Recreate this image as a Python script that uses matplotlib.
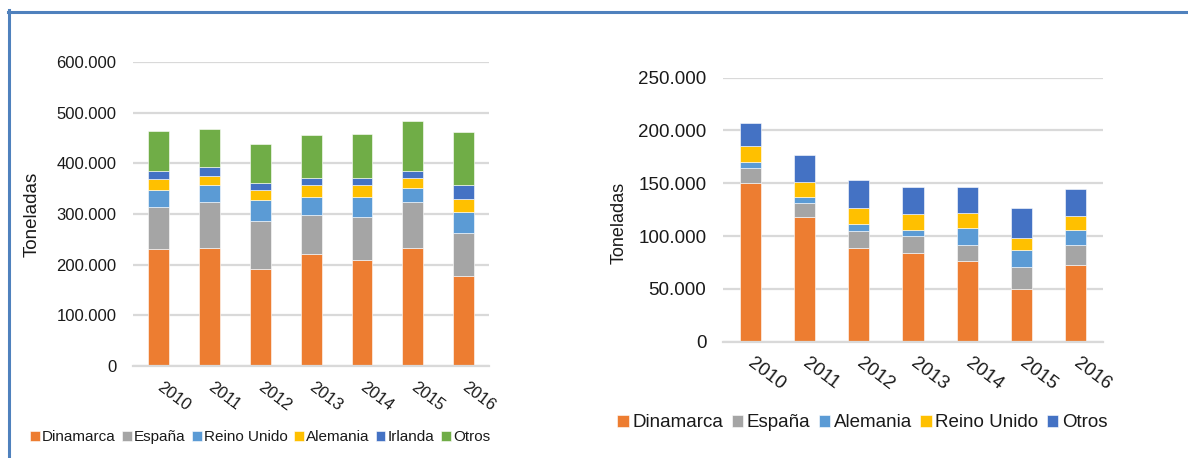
import matplotlib
matplotlib.use("Agg")
import matplotlib.pyplot as plt
from matplotlib.lines import Line2D
from matplotlib.ticker import FuncFormatter, MultipleLocator
import numpy as np

years = ["2010", "2011", "2012", "2013", "2014", "2015", "2016"]

# left panel, thousands of tonnes
left_dinamarca = [230, 233, 192, 220, 210, 233, 178]
left_espana = [83, 91, 94, 79, 85, 91, 84]
left_reino_unido = [35, 33, 41, 35, 39, 27, 41]
left_alemania = [21, 19, 20, 24, 24, 21, 27]
left_irlanda = [17, 17, 14, 14, 14, 14, 28]
left_otros = [79, 76, 77, 84, 87, 97, 104]

# right panel, thousands of tonnes
right_dinamarca = [150, 118, 89, 84, 76, 50, 73]
right_espana = [14, 13, 16, 16, 16, 21, 19]
right_alemania = [6, 6, 6, 6, 16, 16, 14]
right_reino_unido = [15, 14, 16, 15, 14, 11, 13]
right_otros = [22, 26, 26, 25, 24, 29, 26]

ORANGE = "#ED7D31"
GRAY = "#A5A5A5"
LBLUE = "#5B9BD5"
YELLOW = "#FFC000"
DBLUE = "#4472C4"
GREEN = "#70AD47"
GRID = "#D9D9D9"
TXT = "#1a1a1a"

plt.rcParams["font.family"] = ["Liberation Sans", "DejaVu Sans"]

left_series = [
    ("Dinamarca", left_dinamarca, ORANGE),
    ("España", left_espana, GRAY),
    ("Reino Unido", left_reino_unido, LBLUE),
    ("Alemania", left_alemania, YELLOW),
    ("Irlanda", left_irlanda, DBLUE),
    ("Otros", left_otros, GREEN),
]
right_series = [
    ("Dinamarca", right_dinamarca, ORANGE),
    ("España", right_espana, GRAY),
    ("Alemania", right_alemania, LBLUE),
    ("Reino Unido", right_reino_unido, YELLOW),
    ("Otros", right_otros, DBLUE),
]


def thousands(v, pos):
    return f"{int(round(v)):,}".replace(",", ".")


def stacked(ax, series, width):
    x = np.arange(len(years))
    bottom = np.zeros(len(years))
    for name, vals, color in series:
        vals = np.array(vals) * 1000.0
        ax.bar(x, vals, width, bottom=bottom, color=color, label=name,
               edgecolor="white", linewidth=0.4)
        bottom += vals
    ax.set_xlim(-0.5, len(years) - 0.5)
    ax.set_xticks(x)
    ax.yaxis.set_major_formatter(FuncFormatter(thousands))
    ax.grid(axis="y", color=GRID, linewidth=1.6)
    ax.set_axisbelow(True)
    for s in ["top", "right", "left"]:
        ax.spines[s].set_visible(False)
    ax.spines["bottom"].set_color(GRID)
    ax.spines["bottom"].set_linewidth(1.6)
    ax.tick_params(length=0, colors=TXT)


fig = plt.figure(figsize=(11.88, 4.58), dpi=100)

# left panel
ax1 = fig.add_axes([0.112, 0.2015, 0.2997, 0.6625])
stacked(ax1, left_series, 0.41)
ax1.set_ylim(0, 600000)
ax1.yaxis.set_major_locator(MultipleLocator(100000))
ax1.tick_params(axis="y", labelsize=12, pad=12)
ax1.set_xticklabels(years, fontsize=12, rotation=-37, ha="left", va="center",
                    rotation_mode="anchor")
ax1.tick_params(axis="x", pad=14)
ax1.set_ylabel("Toneladas", fontsize=13.5, color=TXT)
ax1.yaxis.set_label_coords(-0.261, 0.5)
fig.legend(*ax1.get_legend_handles_labels(), loc="center", ncol=6,
           bbox_to_anchor=(0.219, 0.045), frameon=False, fontsize=11,
           handlelength=0.6, handleheight=0.6, handletextpad=0.15,
           columnspacing=0.45, labelcolor=TXT)

# right panel
ax2 = fig.add_axes([0.6086, 0.254, 0.3199, 0.5764])
stacked(ax2, right_series, 0.39)
ax2.set_ylim(0, 250000)
ax2.yaxis.set_major_locator(MultipleLocator(50000))
ax2.tick_params(axis="y", labelsize=13.5, pad=12)
ax2.set_xticklabels(years, fontsize=13.5, rotation=-37, ha="left", va="center",
                    rotation_mode="anchor")
ax2.tick_params(axis="x", pad=14)
ax2.set_ylabel("Toneladas", fontsize=13, color=TXT)
ax2.yaxis.set_label_coords(-0.25, 0.45)
fig.legend(*ax2.get_legend_handles_labels(), loc="center", ncol=5,
           bbox_to_anchor=(0.726, 0.077), frameon=False, fontsize=13.5,
           handlelength=0.6, handleheight=0.6, handletextpad=0.2,
           columnspacing=0.45, labelcolor=TXT)

# frame lines along the top and left edge
border = "#4F81BD"
fig.add_artist(Line2D([8 / 1188, 1], [1 - 11.5 / 458] * 2, color=border,
                      linewidth=2.2, transform=fig.transFigure))
fig.add_artist(Line2D([9 / 1188] * 2, [0, 1 - 10 / 458], color=border,
                      linewidth=2.2, transform=fig.transFigure))

fig.savefig("out.png", dpi=100)
